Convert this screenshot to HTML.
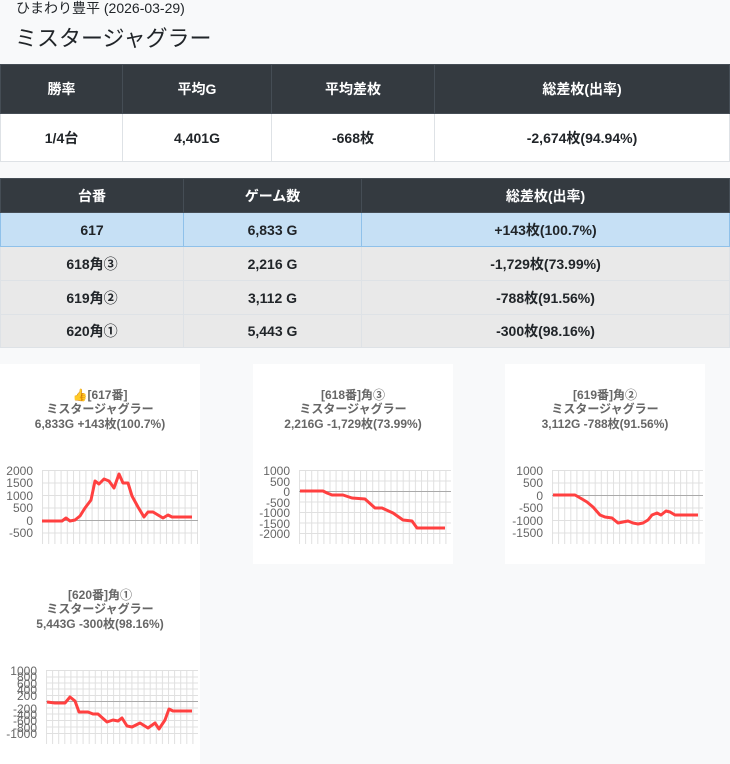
<!DOCTYPE html>
<html><head><meta charset="utf-8"><style>
body{margin:0;width:730px;height:764px;background:#f8f9fa;font-family:"Liberation Sans","Noto Sans CJK JP",sans-serif;position:relative;overflow:hidden;color:#212529}
.a{position:absolute}
table{position:absolute;left:0;border-collapse:collapse;width:730px;font-weight:bold;font-size:14px;text-align:center;table-layout:fixed}
th{background:#343a40;color:#fff;border:1px solid #454d55}
td{border:1px solid #dee2e6}
.box{position:absolute;background:#fff;width:200px;height:200px}
svg text{font-family:"Liberation Sans","Noto Sans CJK JP",sans-serif}
</style></head><body>
<div class="a" style="left:16px;top:0px;font-size:14px;line-height:16px">ひまわり豊平 (2026-03-29)</div>
<div class="a" style="left:15px;top:24px;font-size:22px;line-height:30px">ミスタージャグラー</div>
<table style="top:64px">
<colgroup><col style="width:122px"><col style="width:149px"><col style="width:163px"><col></colgroup>
<tr style="height:49px"><th>勝率</th><th>平均G</th><th>平均差枚</th><th>総差枚(出率)</th></tr>
<tr style="height:48px;background:#fff"><td>1/4台</td><td>4,401G</td><td>-668枚</td><td>-2,674枚(94.94%)</td></tr>
</table>
<table style="top:178px">
<colgroup><col style="width:183px"><col style="width:178px"><col></colgroup>
<tr style="height:34px"><th>台番</th><th>ゲーム数</th><th>総差枚(出率)</th></tr>
<tr style="height:34px;background:#c6e0f5"><td style="border-color:#8fc1ea">617</td><td style="border-color:#8fc1ea">6,833 G</td><td style="border-color:#8fc1ea">+143枚(100.7%)</td></tr>
<tr style="height:34px;background:#e9e9e9"><td>618角③</td><td>2,216 G</td><td>-1,729枚(73.99%)</td></tr>
<tr style="height:34px;background:#e9e9e9"><td>619角②</td><td>3,112 G</td><td>-788枚(91.56%)</td></tr>
<tr style="height:33px;background:#e9e9e9"><td>620角①</td><td>5,443 G</td><td>-300枚(98.16%)</td></tr>
</table>
<div class="box" style="left:0;top:364px"></div>
<div class="box" style="left:253px;top:364px"></div>
<div class="box" style="left:505px;top:364px"></div>
<div class="box" style="left:0;top:564px"></div>
<svg class="a" style="left:0;top:0" width="730" height="764">
<defs>
<pattern id="v1" x="42" y="0" width="6.2" height="10" patternUnits="userSpaceOnUse"><line x1="0.5" y1="0" x2="0.5" y2="10" stroke="#e0e0e0" stroke-width="1"/></pattern>
<pattern id="v2" x="299" y="0" width="6.1" height="10" patternUnits="userSpaceOnUse"><line x1="0.5" y1="0" x2="0.5" y2="10" stroke="#e0e0e0" stroke-width="1"/></pattern>
<pattern id="v3" x="552" y="0" width="6.1" height="10" patternUnits="userSpaceOnUse"><line x1="0.5" y1="0" x2="0.5" y2="10" stroke="#e0e0e0" stroke-width="1"/></pattern>
<pattern id="v4" x="46" y="0" width="6.1" height="10" patternUnits="userSpaceOnUse"><line x1="0.5" y1="0" x2="0.5" y2="10" stroke="#e0e0e0" stroke-width="1"/></pattern>
</defs>
<g font-size="12" font-weight="bold" fill="#666" text-anchor="middle">
<text x="100" y="399">👍[617番]</text><text x="100" y="413">ミスタージャグラー</text><text x="100" y="428">6,833G +143枚(100.7%)</text>
<text x="353" y="399">[618番]角③</text><text x="353" y="413">ミスタージャグラー</text><text x="353" y="428">2,216G -1,729枚(73.99%)</text>
<text x="605" y="399">[619番]角②</text><text x="605" y="413">ミスタージャグラー</text><text x="605" y="428">3,112G -788枚(91.56%)</text>
<text x="100" y="599">[620番]角①</text><text x="100" y="613">ミスタージャグラー</text><text x="100" y="628">5,443G -300枚(98.16%)</text>
</g>
<rect x="42" y="470" width="156" height="74" fill="url(#v1)"/>
<g stroke="#e0e0e0"><line x1="42" x2="198" y1="470.5" y2="470.5"/><line x1="42" x2="198" y1="483" y2="483"/><line x1="42" x2="198" y1="495.5" y2="495.5"/><line x1="42" x2="198" y1="508" y2="508"/><line x1="42" x2="198" y1="533" y2="533"/></g>
<line x1="42" x2="198" y1="520.5" y2="520.5" stroke="#aaa"/>
<g font-size="12" fill="#666" text-anchor="end"><text x="33" y="475">2000</text><text x="33" y="487">1500</text><text x="33" y="500">1000</text><text x="33" y="512">500</text><text x="33" y="525">0</text><text x="33" y="537">-500</text></g>
<polyline fill="none" stroke="#ff4040" stroke-width="3" stroke-linejoin="round" points="42,521 62,521 66,518 70,521 75,520 80,516 85,508 91,500 95,481 99,484 104,479 109,481 114,488 119,474 123,483 128,483 132,496 138,507 144,517 148,512 153,512 158,515 163,518 168,515 172,517 192,517"/>
<rect x="299" y="470" width="152" height="74" fill="url(#v2)"/>
<g stroke="#e0e0e0"><line x1="299" x2="451" y1="470.5" y2="470.5"/><line x1="299" x2="451" y1="481" y2="481"/><line x1="299" x2="451" y1="502" y2="502"/><line x1="299" x2="451" y1="512.5" y2="512.5"/><line x1="299" x2="451" y1="523" y2="523"/><line x1="299" x2="451" y1="533.5" y2="533.5"/></g>
<line x1="299" x2="451" y1="491.5" y2="491.5" stroke="#aaa"/>
<g font-size="12" fill="#666" text-anchor="end"><text x="290" y="475">1000</text><text x="290" y="486">500</text><text x="290" y="496">0</text><text x="290" y="507">-500</text><text x="290" y="517">-1000</text><text x="290" y="528">-1500</text><text x="290" y="538">-2000</text></g>
<polyline fill="none" stroke="#ff4040" stroke-width="3" stroke-linejoin="round" points="300,491 323,491 327,493 332,495 343,495 352,498 365,499 375,508 382,508 393,513 403,520 412,521 417,528 445,528"/>
<rect x="552" y="470" width="151" height="74" fill="url(#v3)"/>
<g stroke="#e0e0e0"><line x1="552" x2="703" y1="470.5" y2="470.5"/><line x1="552" x2="703" y1="483" y2="483"/><line x1="552" x2="703" y1="508" y2="508"/><line x1="552" x2="703" y1="520.5" y2="520.5"/><line x1="552" x2="703" y1="533" y2="533"/></g>
<line x1="552" x2="703" y1="495.5" y2="495.5" stroke="#aaa"/>
<g font-size="12" fill="#666" text-anchor="end"><text x="543" y="475">1000</text><text x="543" y="487">500</text><text x="543" y="500">0</text><text x="543" y="512">-500</text><text x="543" y="525">-1000</text><text x="543" y="537">-1500</text></g>
<polyline fill="none" stroke="#ff4040" stroke-width="3" stroke-linejoin="round" points="553,495 575,495 582,499 587,502 593,507 600,515 605,517 612,518 618,523 628,521 633,523 638,524 643,523 648,520 652,515 657,513 661,515 666,511 670,512 675,515 698,515"/>
<rect x="46" y="670" width="152" height="74" fill="url(#v4)"/>
<g stroke="#e0e0e0"><line x1="46" x2="198" y1="670.5" y2="670.5"/><line x1="46" x2="198" y1="677" y2="677"/><line x1="46" x2="198" y1="683" y2="683"/><line x1="46" x2="198" y1="689" y2="689"/><line x1="46" x2="198" y1="695.5" y2="695.5"/><line x1="46" x2="198" y1="708" y2="708"/><line x1="46" x2="198" y1="714" y2="714"/><line x1="46" x2="198" y1="720.5" y2="720.5"/><line x1="46" x2="198" y1="727" y2="727"/><line x1="46" x2="198" y1="733.5" y2="733.5"/></g>
<line x1="46" x2="198" y1="701.5" y2="701.5" stroke="#aaa"/>
<g font-size="12" fill="#666" text-anchor="end"><text x="37" y="675">1000</text><text x="37" y="681">800</text><text x="37" y="688">600</text><text x="37" y="694">400</text><text x="37" y="700">200</text><text x="37" y="713">-200</text><text x="37" y="719">-400</text><text x="37" y="725">-600</text><text x="37" y="732">-800</text><text x="37" y="738">-1000</text></g>
<polyline fill="none" stroke="#ff4040" stroke-width="3" stroke-linejoin="round" points="47,702 55,703 65,703 70,697 75,701 79,712 88,712 93,714 98,714 107,722 113,720 118,721 122,718 127,726 132,727 140,723 148,728 155,723 159,729 165,720 169,709 173,711 192,711"/>
</svg>
</body></html>
